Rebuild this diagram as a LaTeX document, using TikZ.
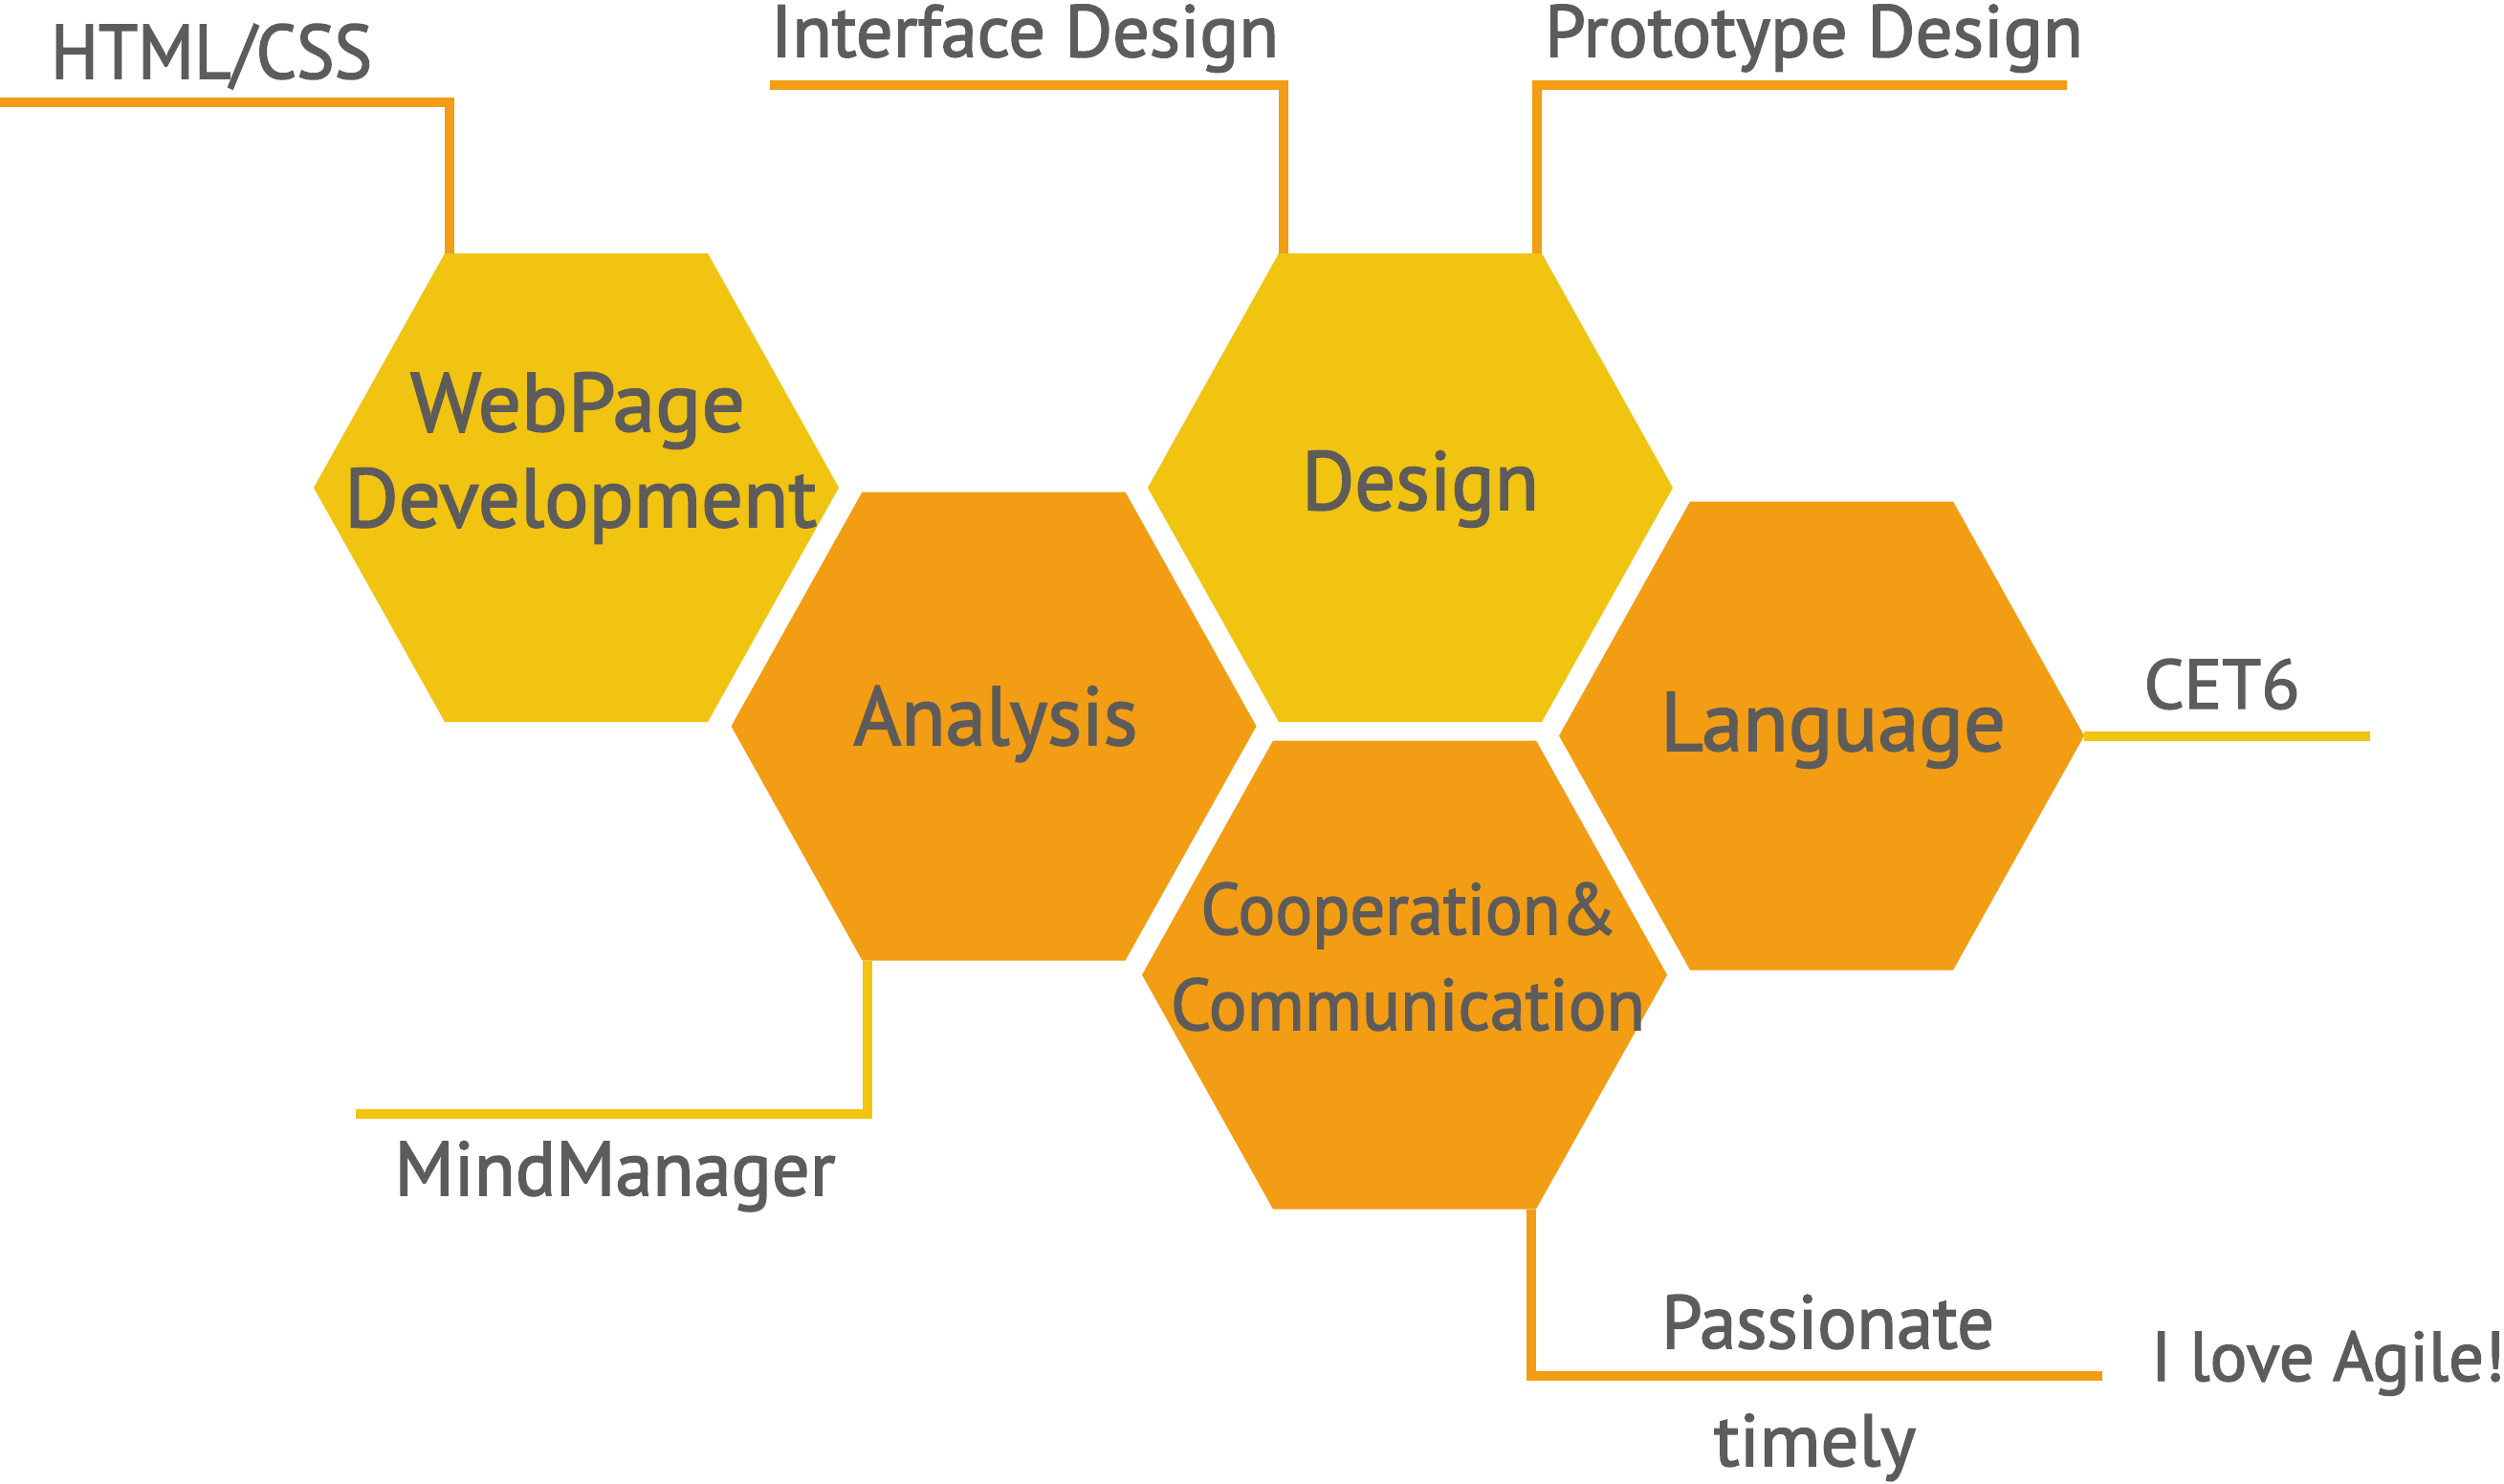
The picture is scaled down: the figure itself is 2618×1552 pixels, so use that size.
\documentclass[tikz,border=0pt]{standalone}
\usepackage{fontspec}
\usepackage{graphicx}
\usetikzlibrary{calc}
\newfontfamily\lblfont{PT Sans}[FakeBold=2]
\definecolor{hexyellow}{RGB}{241,196,18}
\definecolor{hexorange}{RGB}{242,157,20}
\definecolor{txtgray}{RGB}{94,92,90}
\newcommand\lbltext[3]{{\fontsize{#1}{#1}\selectfont\resizebox{#2pt}{\height}{#3}}}
\newcommand\hexcell[4]{%
  \coordinate (#1) at (#2,#3);
  \path (#1) ++(-137.5,-245) coordinate (#1-tl)
        (#1) ++(137.5,-245) coordinate (#1-tr)
        (#1) ++(274.5,0) coordinate (#1-r)
        (#1) ++(137.5,245) coordinate (#1-br)
        (#1) ++(-137.5,245) coordinate (#1-bl)
        (#1) ++(-274.5,0) coordinate (#1-l);
  \fill[#4] (#1-tl) -- (#1-tr) -- (#1-r) -- (#1-br) -- (#1-bl) -- (#1-l) -- cycle;
}
\begin{document}
\begin{tikzpicture}[x=1pt,y=-1pt,
  lbl/.style={inner sep=0pt, text=txtgray, font=\lblfont, anchor=base},
  oline/.style={draw=hexorange, line width=10pt},
  yline/.style={draw=hexyellow, line width=10pt}]
\useasboundingbox[fill=white] (0,0) rectangle (2618,1552);

% hexagons
\hexcell{web}{602.5}{510}{hexyellow}
\hexcell{design}{1474.5}{510}{hexyellow}
\hexcell{analysis}{1039}{759.5}{hexorange}
\hexcell{coop}{1468.5}{1019.5}{hexorange}
\hexcell{lang}{1904.5}{769.5}{hexorange}

% free ends of connectors
\coordinate (htmlend) at (0,107);
\coordinate (ifaceend) at (804.5,89);
\coordinate (protoend) at (2161,89);
\coordinate (mindend) at (372,1165);
\coordinate (cetend) at (2478,769.5);
\coordinate (passend) at (2198,1439);

% connectors
\draw[oline] (htmlend) -| ($(web-tl)+(5,0)$);
\draw[oline] (ifaceend) -| ($(design-tl)+(5,0)$);
\draw[oline] (protoend) -| ($(design-tr)+(-5,0)$);
\draw[yline] (mindend) -| ($(analysis-bl)+(5,0)$);
\draw[yline] (lang-r) -- (cetend);
\draw[oline] (passend) -| ($(coop-br)+(-5,0)$);

% hexagon labels
\node[lbl] (webt1) at (604,451) {\lbltext{87}{350}{WebPage}};
\node[lbl] (webt2) at (607,551) {\lbltext{87}{494}{Development}};
\node[lbl] (designt) at (1485,533) {\lbltext{87}{248}{Design}};
\node[lbl] (analysist) at (1041,779) {\lbltext{87}{297}{Analysis}};
\node[lbl] (langt) at (1916.5,785) {\lbltext{87}{361}{Language}};
\node[lbl] (coopt1) at (1473,977) {\lbltext{76}{435}{Cooperation\&}};
\node[lbl] (coopt2) at (1472,1077) {\lbltext{76}{496}{Communication}};

% outer labels
\node[lbl] (html) at (221,82) {\lbltext{80}{336}{HTML/CSS}};
\node[lbl] (iface) at (1071.5,59.3) {\lbltext{77}{531}{Interface Design}};
\node[lbl] (proto) at (1896.5,59.3) {\lbltext{77}{563}{Prototype Design}};
\node[lbl] (cet) at (2323,741) {\lbltext{73}{163}{CET6}};
\node[lbl] (mind) at (643,1250) {\lbltext{80}{461}{MindManager}};
\node[lbl] (pass) at (1911,1410) {\lbltext{79}{348}{Passionate}};
\node[lbl] (timely) at (1897.5,1533) {\lbltext{77}{211}{timely}};
\node[lbl] (agile) at (2434,1444) {\lbltext{73}{370}{I love Agile!}};
\end{tikzpicture}
\end{document}
